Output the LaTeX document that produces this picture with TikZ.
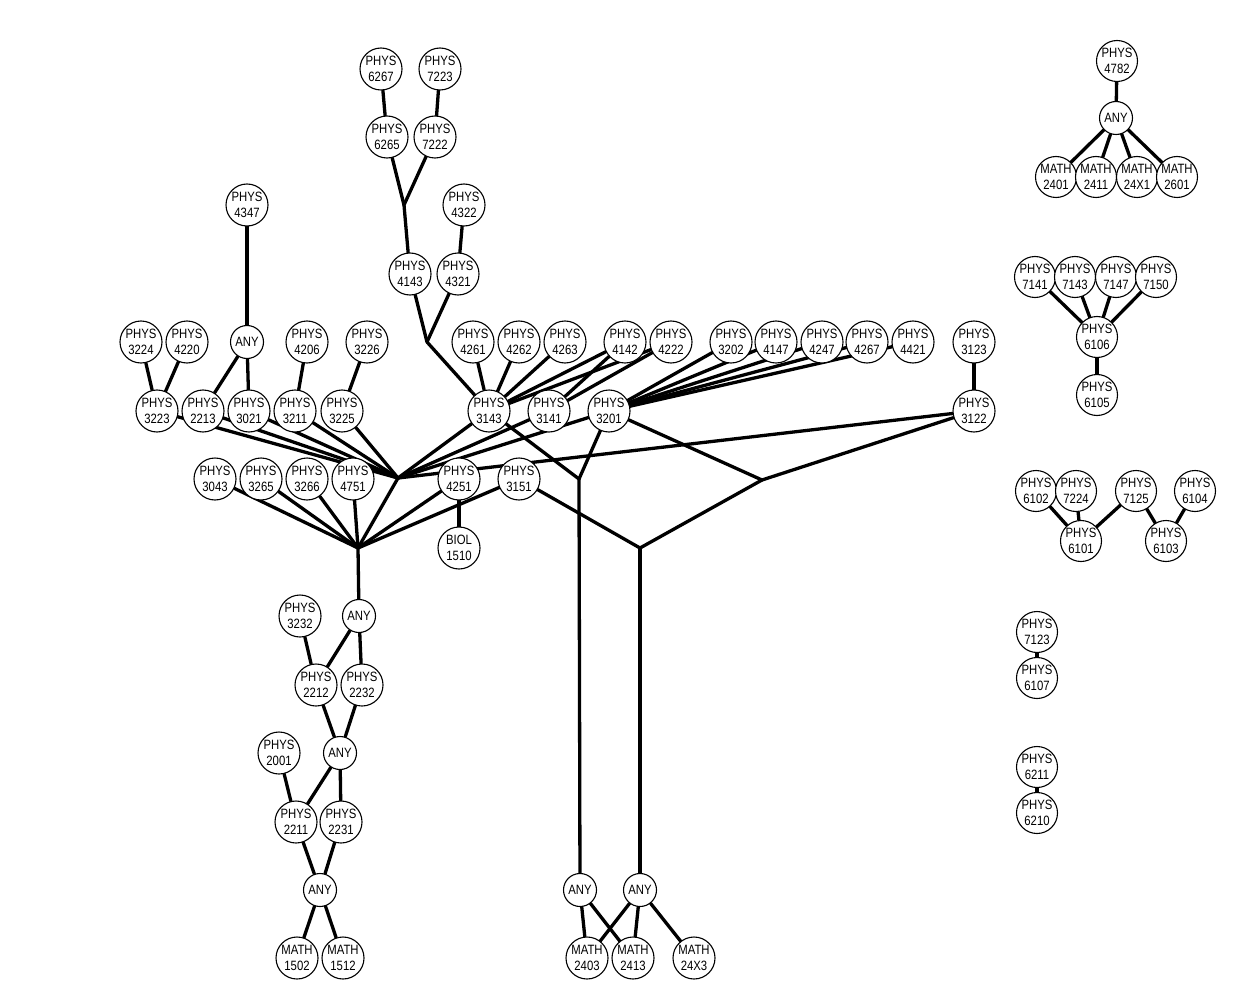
\documentclass[tikz,border=0pt]{standalone}
\usepackage{fontspec}
\setmainfont{Liberation Sans}[FakeStretch=0.84]
\usetikzlibrary{backgrounds}
\begin{document}
\begin{tikzpicture}[x=1pt,y=-1pt,
  course/.style={circle,draw,line width=1.1pt,fill=white,minimum size=42pt,inner sep=0pt,align=center,font=\fontsize{13.5}{15.5}\selectfont},
  anyn/.style={course,minimum size=33pt},
  small/.style={course,minimum size=41pt},
  edge/.style={line width=3.3pt,line cap=round}]
\useasboundingbox (0,0) rectangle (1236,1000);
% ---------- main component nodes ----------
\node[course] (p6267) at (381,69) {PHYS\\6267};
\node[course] (p7223) at (440,69) {PHYS\\7223};
\node[course] (p6265) at (387,137) {PHYS\\6265};
\node[course] (p7222) at (435,137) {PHYS\\7222};
\node[course] (p4322) at (464,205) {PHYS\\4322};
\node[course] (p4143) at (410,274) {PHYS\\4143};
\node[course] (p4321) at (458,274) {PHYS\\4321};
\node[course] (p4347) at (247,205) {PHYS\\4347};
\node[anyn]   (any1)  at (247,342) {ANY};
\node[course] (p3224) at (141,342) {PHYS\\3224};
\node[course] (p4220) at (187,342) {PHYS\\4220};
\node[course] (p4206) at (307,342) {PHYS\\4206};
\node[course] (p3226) at (367,342) {PHYS\\3226};
\node[course] (p4261) at (473,342) {PHYS\\4261};
\node[course] (p4262) at (519,342) {PHYS\\4262};
\node[course] (p4263) at (565,342) {PHYS\\4263};
\node[course] (p4142) at (625,342) {PHYS\\4142};
\node[course] (p4222) at (671,342) {PHYS\\4222};
\node[course] (p3202) at (731,342) {PHYS\\3202};
\node[course] (p4147) at (776,342) {PHYS\\4147};
\node[course] (p4247) at (822,342) {PHYS\\4247};
\node[course] (p4267) at (867,342) {PHYS\\4267};
\node[course] (p4421) at (913,342) {PHYS\\4421};
\node[course] (p3123) at (974,342) {PHYS\\3123};
\node[course] (p3223) at (157,411) {PHYS\\3223};
\node[course] (p2213) at (203,411) {PHYS\\2213};
\node[course] (p3021) at (249,411) {PHYS\\3021};
\node[course] (p3211) at (295,411) {PHYS\\3211};
\node[course] (p3225) at (342,411) {PHYS\\3225};
\node[course] (p3143) at (489,411) {PHYS\\3143};
\node[course] (p3141) at (549,411) {PHYS\\3141};
\node[course] (p3201) at (609,411) {PHYS\\3201};
\node[course] (p3122) at (974,411) {PHYS\\3122};
\node[course] (p3043) at (215,479) {PHYS\\3043};
\node[course] (p3265) at (261,479) {PHYS\\3265};
\node[course] (p3266) at (307,479) {PHYS\\3266};
\node[course] (p4751) at (353,479) {PHYS\\4751};
\node[course] (p4251) at (459,479) {PHYS\\4251};
\node[course] (p3151) at (519,479) {PHYS\\3151};
\node[course] (b1510) at (459,548) {BIOL\\1510};
\node[anyn]   (any2)  at (359,616) {ANY};
\node[course] (p3232) at (300,616) {PHYS\\3232};
\node[course] (p2212) at (316,685) {PHYS\\2212};
\node[course] (p2232) at (362,685) {PHYS\\2232};
\node[anyn]   (any3)  at (340,753) {ANY};
\node[course] (p2001) at (279,753) {PHYS\\2001};
\node[course] (p2211) at (296,822) {PHYS\\2211};
\node[course] (p2231) at (341,822) {PHYS\\2231};
\node[anyn]   (any4)  at (320,890) {ANY};
\node[course] (m1502) at (297,958) {MATH\\1502};
\node[course] (m1512) at (343,958) {MATH\\1512};
\node[anyn]   (any5)  at (580,890) {ANY};
\node[anyn]   (any6)  at (640,890) {ANY};
\node[course] (m2403) at (587,958) {MATH\\2403};
\node[course] (m2413) at (633,958) {MATH\\2413};
\node[course] (m24x3) at (694,958) {MATH\\24X3};
% ---------- junction points ----------
\coordinate (hA) at (404,205);
\coordinate (hB) at (427,342);
\coordinate (hC) at (398,478);
\coordinate (hD) at (358,548);
\coordinate (hE) at (579,479);
\coordinate (hF) at (762,480);
\coordinate (hG) at (640,548);
% ---------- right components ----------
\node[small] (p4782) at (1117,61) {PHYS\\4782};
\node[anyn]  (anyr)  at (1116,118) {ANY};
\node[small] (m2401) at (1056,177) {MATH\\2401};
\node[small] (m2411) at (1096,177) {MATH\\2411};
\node[small] (m24x1) at (1137,177) {MATH\\24X1};
\node[small] (m2601) at (1177,177) {MATH\\2601};
\node[small] (p7141) at (1035,277) {PHYS\\7141};
\node[small] (p7143) at (1075,277) {PHYS\\7143};
\node[small] (p7147) at (1116,277) {PHYS\\7147};
\node[small] (p7150) at (1156,277) {PHYS\\7150};
\node[small] (p6106) at (1097,337) {PHYS\\6106};
\node[small] (p6105) at (1097,395) {PHYS\\6105};
\node[small] (p6102) at (1036,491) {PHYS\\6102};
\node[small] (p7224) at (1076,491) {PHYS\\7224};
\node[small] (p7125) at (1136,491) {PHYS\\7125};
\node[small] (p6104) at (1195,491) {PHYS\\6104};
\node[small] (p6101) at (1081,541) {PHYS\\6101};
\node[small] (p6103) at (1166,541) {PHYS\\6103};
\node[small] (p7123) at (1037,632) {PHYS\\7123};
\node[small] (p6107) at (1037,678) {PHYS\\6107};
\node[small] (p6211) at (1037,767) {PHYS\\6211};
\node[small] (p6210) at (1037,813) {PHYS\\6210};
% ---------- edges ----------
\begin{pgfonlayer}{background}
\draw[edge] (p6267) -- (p6265);
\draw[edge] (p7223) -- (p7222);
\draw[edge] (p6265) -- (hA);
\draw[edge] (p7222) -- (hA);
\draw[edge] (hA) -- (p4143);
\draw[edge] (p4322) -- (p4321);
\draw[edge] (p4143) -- (hB);
\draw[edge] (p4321) -- (hB);
\draw[edge] (hB) -- (p3143);
\draw[edge] (p4347) -- (any1);
\draw[edge] (p3224) -- (p3223);
\draw[edge] (p4220) -- (p3223);
\draw[edge] (any1) -- (p2213);
\draw[edge] (any1) -- (p3021);
\draw[edge] (p4206) -- (p3211);
\draw[edge] (p3226) -- (p3225);
\draw[edge] (p4261) -- (p3143);
\draw[edge] (p4262) -- (p3143);
\draw[edge] (p4263) -- (p3143);
\draw[edge] (p4142) -- (p3143);
\draw[edge] (p4142) -- (p3141);
\draw[edge] (p4222) -- (p3143);
\draw[edge] (p4222) -- (p3141);
\draw[edge] (p3202) -- (p3201);
\draw[edge] (p4147) -- (p3201);
\draw[edge] (p4247) -- (p3201);
\draw[edge] (p4267) -- (p3201);
\draw[edge] (p4421) -- (p3201);
\draw[edge] (p3123) -- (p3122);
\foreach \s in {p3223,p2213,p3021,p3211,p3225,p3143,p3141,p3201,p3122}
  \draw[edge] (\s) -- (hC);
\draw[edge] (hC) -- (hD);
\foreach \s in {p3043,p3265,p3266,p4751,p4251,p3151}
  \draw[edge] (\s) -- (hD);
\draw[edge] (hD) -- (any2);
\draw[edge] (p4251) -- (b1510);
\draw[edge] (p3143) -- (hE);
\draw[edge] (p3201) -- (hE);
\draw[edge] (hE) -- (any5);
\draw[edge] (p3201) -- (hF);
\draw[edge] (p3122) -- (hF);
\draw[edge] (hF) -- (hG);
\draw[edge] (p3151) -- (hG);
\draw[edge] (hG) -- (any6);
\draw[edge] (any2) -- (p2212);
\draw[edge] (any2) -- (p2232);
\draw[edge] (p3232) -- (p2212);
\draw[edge] (p2212) -- (any3);
\draw[edge] (p2232) -- (any3);
\draw[edge] (p2001) -- (p2211);
\draw[edge] (any3) -- (p2211);
\draw[edge] (any3) -- (p2231);
\draw[edge] (p2211) -- (any4);
\draw[edge] (p2231) -- (any4);
\draw[edge] (any4) -- (m1502);
\draw[edge] (any4) -- (m1512);
\draw[edge] (any5) -- (m2403);
\draw[edge] (any5) -- (m2413);
\draw[edge] (any6) -- (m2403);
\draw[edge] (any6) -- (m2413);
\draw[edge] (any6) -- (m24x3);
% right
\draw[edge] (p4782) -- (anyr);
\foreach \s in {m2401,m2411,m24x1,m2601} \draw[edge] (anyr) -- (\s);
\foreach \s in {p7141,p7143,p7147,p7150} \draw[edge] (\s) -- (p6106);
\draw[edge] (p6106) -- (p6105);
\draw[edge] (p6102) -- (p6101);
\draw[edge] (p7224) -- (p6101);
\draw[edge] (p7125) -- (p6101);
\draw[edge] (p7125) -- (p6103);
\draw[edge] (p6104) -- (p6103);
\draw[edge] (p7123) -- (p6107);
\draw[edge] (p6211) -- (p6210);
\end{pgfonlayer}
\end{tikzpicture}
\end{document}
